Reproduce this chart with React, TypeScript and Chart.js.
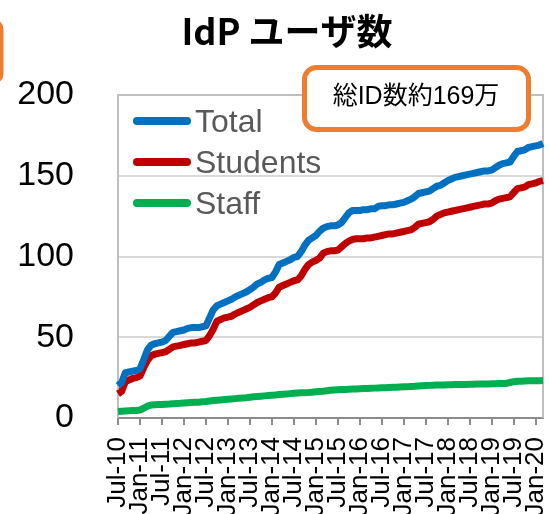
import React, { useEffect, useRef } from "react";
import { Chart, registerables } from "chart.js";

Chart.register(...registerables);

// ---- data ----
const MONTH_NAMES = ["Jan", "Feb", "Mar", "Apr", "May", "Jun", "Jul", "Aug", "Sep", "Oct", "Nov", "Dec"];
const FIRST_MONTH_INDEX = 6; // Jul
const FIRST_YEAR = 10; // 2010
const POINT_COUNT = 117; // Jul-10 .. Mar-20

const monthLabels: string[] = Array.from({ length: POINT_COUNT }, (_, i) => {
  const k = FIRST_MONTH_INDEX + i;
  return `${MONTH_NAMES[k % 12]}-${FIRST_YEAR + Math.floor(k / 12)}`;
});

const totalValues = [
  20, 22, 28, 28.5, 29, 29.5, 30.5, 36, 42, 45,
  46, 46.5, 47, 48, 50.5, 53, 53.5, 54, 54.5, 55.5,
  56, 56, 56, 56.5, 57, 62, 67, 69.5, 70.5, 71.5,
  72.5, 73.5, 75, 76, 77, 78, 79.5, 81, 83, 84,
  85.5, 86.5, 87, 90.5, 95, 96, 97, 98, 99.5, 100,
  103, 107, 110, 111.5, 113, 115.5, 117.5, 118.5, 119, 119,
  119.5, 121, 124, 127, 128.5, 128.5, 128.5, 129, 129, 129.5,
  129.5, 131, 131.5, 131.5, 132, 132, 132.5, 133, 133.5, 134.5,
  135.5, 137, 139, 139.5, 140, 140.5, 142, 143.5, 144, 145.5,
  147, 148, 149, 149.5, 150, 150.5, 151, 151.5, 152, 152.5,
  153, 153, 153.5, 155, 156.5, 157.5, 158, 158.5, 162, 165,
  165.5, 166, 167.5, 168, 168.5, 169, 170,
];

const studentValues = [
  15, 16.5, 22.5, 23.5, 24.5, 25, 26, 31, 35.5, 38.5,
  39.5, 40, 40.5, 41, 42.5, 44, 44.5, 45, 45.5, 46,
  46.5, 46.5, 47, 47.5, 48, 51, 55, 60, 61, 62,
  62.5, 63, 64.5, 65.5, 66.5, 67.5, 68.5, 70, 71.5, 72.5,
  73.5, 74.5, 75, 77.5, 81, 82, 83, 84, 85, 85.5,
  88, 92, 95, 96.5, 97.5, 99, 102, 103, 103.5, 103.5,
  104, 106, 108, 109.5, 110.5, 111, 111, 111, 111.5, 111.5,
  112, 112.5, 113, 113.5, 114, 114, 114.5, 115, 115.5, 116,
  116.5, 118, 120, 120.5, 121, 121.5, 123, 125, 126, 127,
  127.5, 128, 128.5, 129, 129.5, 130, 130.5, 131, 131.5, 132,
  132.5, 132.5, 133, 134.5, 135.5, 136, 136.5, 137, 139.5, 142,
  142.5, 143, 144.5, 145, 145.5, 146.5, 147,
];

const staffValues = [
  4, 4.2, 4.4, 4.5, 4.6, 4.7, 5, 6, 7.3, 8,
  8.2, 8.3, 8.4, 8.5, 8.6, 8.8, 9, 9.1, 9.3, 9.5,
  9.6, 9.7, 9.8, 10, 10.2, 10.5, 10.8, 11, 11.2, 11.4,
  11.6, 11.8, 12, 12.2, 12.4, 12.6, 12.9, 13.1, 13.3, 13.5,
  13.7, 13.9, 14.1, 14.3, 14.5, 14.7, 14.9, 15.1, 15.3, 15.5,
  15.6, 15.7, 15.8, 16, 16.2, 16.4, 16.6, 16.9, 17.2, 17.4,
  17.5, 17.6, 17.7, 17.8, 17.9, 18, 18.1, 18.2, 18.3, 18.4,
  18.5, 18.6, 18.7, 18.8, 18.9, 19, 19.1, 19.2, 19.3, 19.4,
  19.5, 19.6, 19.8, 20, 20.1, 20.2, 20.3, 20.4, 20.5, 20.5,
  20.6, 20.6, 20.7, 20.7, 20.8, 20.8, 20.9, 20.9, 21, 21,
  21.1, 21.1, 21.2, 21.2, 21.3, 21.3, 21.4, 22, 22.5, 22.7,
  22.8, 22.9, 23, 23, 23.1, 23.1, 23.2,
];

const seriesNames = ["Total", "Students", "Staff"];
const seriesColors = ["#0070C0", "#C00000", "#00B050"];
const titleText = "IdP ユーザ数";
const noteText = "総ID数約169万";
const Y_MIN = 0;
const Y_MAX = 200;
const Y_STEP = 50;
const X_TICK_EVERY = 6;

// ---- helpers ----
function roundRect(ctx: CanvasRenderingContext2D, x: number, y: number, w: number, h: number, r: number) {
  ctx.beginPath();
  ctx.moveTo(x + r, y);
  ctx.lineTo(x + w - r, y);
  ctx.arcTo(x + w, y, x + w, y + r, r);
  ctx.lineTo(x + w, y + h - r);
  ctx.arcTo(x + w, y + h, x + w - r, y + h, r);
  ctx.lineTo(x + r, y + h);
  ctx.arcTo(x, y + h, x, y + h - r, r);
  ctx.lineTo(x, y + r);
  ctx.arcTo(x, y, x + r, y, r);
  ctx.closePath();
}

const decorPlugin = {
  id: "decor",
  beforeDatasetsDraw(chart: any) {
    const { ctx, chartArea: a } = chart;
    ctx.save();
    ctx.strokeStyle = "#BFBFBF";
    ctx.lineWidth = 2;
    ctx.beginPath();
    ctx.moveTo(a.left, a.bottom);
    ctx.lineTo(a.left, a.top);
    ctx.lineTo(a.right, a.top);
    ctx.lineTo(a.right, a.bottom);
    ctx.stroke();
    ctx.restore();
  },
  afterDraw(chart: any) {
    const { ctx, chartArea: a } = chart;
    ctx.save();
    // title
    ctx.fillStyle = "#000000";
    ctx.font = "bold 36px 'Noto Sans CJK JP', sans-serif";
    ctx.textAlign = "center";
    ctx.textBaseline = "middle";
    ctx.fillText(titleText, 287, 31);
    // in-plot legend
    const ds = chart.data.datasets;
    ds.forEach((d: any, i: number) => {
      const ly = a.top + 26 + i * 41;
      ctx.strokeStyle = d.borderColor;
      ctx.lineWidth = 8;
      ctx.lineCap = "round";
      ctx.beginPath();
      ctx.moveTo(a.left + 19, ly);
      ctx.lineTo(a.left + 69, ly);
      ctx.stroke();
      ctx.fillStyle = "#595959";
      ctx.font = "32px 'Liberation Sans', Arial, sans-serif";
      ctx.textAlign = "left";
      ctx.textBaseline = "alphabetic";
      ctx.fillText(d.label, a.left + 77, ly + 11);
    });
    // note box
    ctx.lineCap = "butt";
    roundRect(ctx, 304.5, 67.5, 224, 62, 12);
    ctx.fillStyle = "#FFFFFF";
    ctx.fill();
    ctx.strokeStyle = "#ED7D31";
    ctx.lineWidth = 5;
    ctx.stroke();
    ctx.fillStyle = "#000000";
    ctx.font = "25px 'Liberation Sans', 'Noto Sans CJK JP', sans-serif";
    ctx.textAlign = "center";
    ctx.textBaseline = "middle";
    ctx.fillText(noteText, 416, 97);
    // partial box at the left edge
    roundRect(ctx, -60, 21, 61.5, 61, 8);
    ctx.strokeStyle = "#ED7D31";
    ctx.lineWidth = 4;
    ctx.stroke();
    ctx.restore();
  },
};

export default function App() {
  const canvasRef = useRef<HTMLCanvasElement | null>(null);

  useEffect(() => {
    const canvas = canvasRef.current;
    if (!canvas) return;
    const chart = new Chart(canvas, {
      type: "line",
      data: {
        labels: monthLabels,
        datasets: [
          { label: seriesNames[0], data: totalValues, borderColor: seriesColors[0] },
          { label: seriesNames[1], data: studentValues, borderColor: seriesColors[1] },
          { label: seriesNames[2], data: staffValues, borderColor: seriesColors[2] },
        ].map((d) => ({
          ...d,
          backgroundColor: d.borderColor,
          borderWidth: 7,
          pointRadius: 0,
          pointHoverRadius: 0,
          tension: 0,
          fill: false,
          borderJoinStyle: "round" as const,
          borderCapStyle: "butt" as const,
        })),
      },
      options: {
        responsive: false,
        animation: false,
        devicePixelRatio: 1,
        layout: { padding: { left: 0, right: 6, top: 95, bottom: 0 } },
        plugins: {
          legend: { display: false },
          tooltip: { enabled: false },
          title: { display: false },
        },
        scales: {
          x: {
            type: "category",
            offset: false,
            afterBuildTicks: (scale: any) => {
              scale.ticks = scale.ticks.filter((t: any) => t.value % X_TICK_EVERY === 0);
            },
            afterFit: (scale: any) => {
              scale.height = 96;
              scale.paddingLeft = 0;
              scale.paddingRight = 0;
            },
            ticks: {
              autoSkip: false,
              maxRotation: 90,
              minRotation: 90,
              padding: 12,
              color: "#000000",
              font: { family: "'Liberation Sans', Arial, sans-serif", size: 26 },
            },
            grid: {
              drawOnChartArea: false,
              drawTicks: true,
              tickLength: 7,
              color: "#8C8C8C",
              lineWidth: 2,
            },
            border: { display: true, color: "#8C8C8C", width: 2 },
          },
          y: {
            min: Y_MIN,
            max: Y_MAX,
            afterFit: (scale: any) => {
              scale.width = 118;
              scale.paddingTop = 0;
              scale.paddingBottom = 0;
            },
            ticks: {
              stepSize: Y_STEP,
              padding: 44,
              color: "#000000",
              font: { family: "'Liberation Sans', Arial, sans-serif", size: 34 },
            },
            grid: {
              drawTicks: false,
              lineWidth: 2,
              color: (c: any) =>
                c.tick && c.tick.value === Y_MAX ? "#BFBFBF" : c.tick && c.tick.value === Y_MIN ? "rgba(0,0,0,0)" : "#D9D9D9",
            },
            border: { display: false },
          },
        },
      },
      plugins: [decorPlugin],
    });
    return () => chart.destroy();
  }, []);

  return (
    <div style={{ position: "fixed", left: 0, top: 0, width: 549, height: 514, background: "#FFFFFF" }}>
      <canvas ref={canvasRef} width={549} height={514} style={{ display: "block", width: 549, height: 514 }} />
    </div>
  );
}
